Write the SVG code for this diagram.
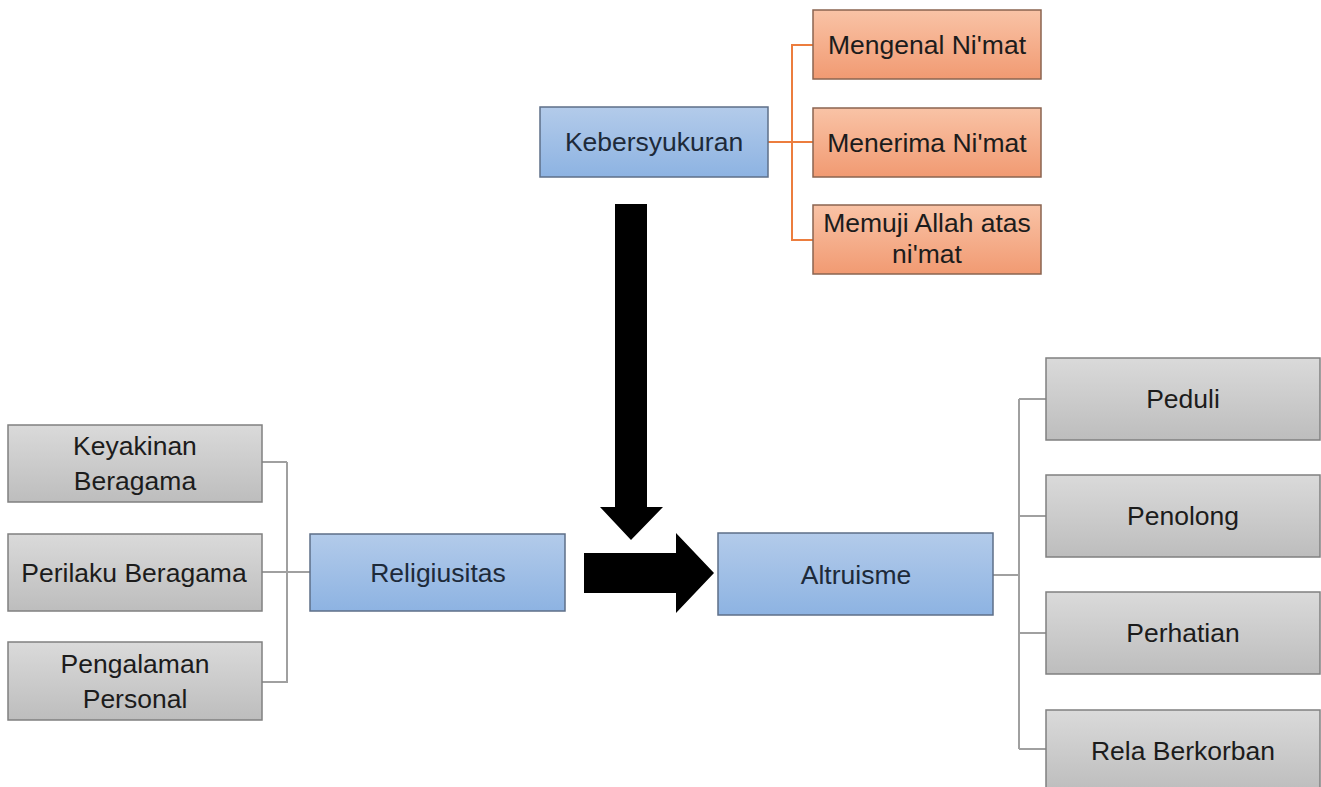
<svg xmlns="http://www.w3.org/2000/svg" width="1321" height="787" viewBox="0 0 1321 787">
<defs>
<linearGradient id="gGray" x1="0" y1="0" x2="0" y2="1"><stop offset="0" stop-color="#dadada"/><stop offset="1" stop-color="#bdbdbd"/></linearGradient>
<linearGradient id="gBlue" x1="0" y1="0" x2="0" y2="1"><stop offset="0" stop-color="#b3cbea"/><stop offset="1" stop-color="#8db3e2"/></linearGradient>
<linearGradient id="gOrange" x1="0" y1="0" x2="0" y2="1"><stop offset="0" stop-color="#f9c3a6"/><stop offset="1" stop-color="#f19a72"/></linearGradient>
</defs>
<style>
.gray{fill:url(#gGray);stroke:#808080;stroke-width:1.5}
.blue{fill:url(#gBlue);stroke:#5e6f88;stroke-width:1.5}
.orange{fill:url(#gOrange);stroke:#8a6450;stroke-width:1.5}
text{font-family:"Liberation Sans",Arial,sans-serif;font-size:26.5px;fill:#1c1c1c;text-anchor:middle}
.bt{fill:#1d2a3a}
.cg{fill:none;stroke:#a0a0a0;stroke-width:2}
.co{fill:none;stroke:#ec7d3e;stroke-width:2}
</style>
<rect width="1321" height="787" fill="#ffffff"/>
<g id="connectors">
<path class="co" d="M768 142H813M792 142V45H813M792 142V240H813"/>
<path class="cg" d="M262 572H310M287 462H262M287 462V682H262"/>
<path class="cg" d="M993 575H1019M1019 399V749M1019 399H1046M1019 516H1046M1019 633H1046M1019 749H1046"/>
<path fill="#000" d="M615 204H647V507H663L631 540L600 507H615Z"/>
<path fill="#000" d="M584 553H676V533L714 573L676 613V593H584Z"/>
</g>
<g id="kebersyukuran"><rect class="blue" x="540" y="107" width="228" height="70"/><text class="bt" x="654" y="151">Kebersyukuran</text></g>
<g id="mengenal"><rect class="orange" x="813" y="10" width="228" height="69"/><text x="927" y="54">Mengenal Ni'mat</text></g>
<g id="menerima"><rect class="orange" x="813" y="108" width="228" height="69"/><text x="927" y="152">Menerima Ni'mat</text></g>
<g id="memuji"><rect class="orange" x="813" y="205" width="228" height="69"/><text x="927" y="232">Memuji Allah atas</text><text x="927" y="263">ni'mat</text></g>
<g id="keyakinan"><rect class="gray" x="8" y="425" width="254" height="77"/><text x="135" y="455">Keyakinan</text><text x="135" y="490">Beragama</text></g>
<g id="perilaku"><rect class="gray" x="8" y="534" width="254" height="77"/><text x="134" y="582">Perilaku Beragama</text></g>
<g id="pengalaman"><rect class="gray" x="8" y="642" width="254" height="78"/><text x="135" y="673">Pengalaman</text><text x="135" y="708">Personal</text></g>
<g id="religiusitas"><rect class="blue" x="310" y="534" width="255" height="77"/><text class="bt" x="438" y="582">Religiusitas</text></g>
<g id="altruisme"><rect class="blue" x="718" y="533" width="275" height="82"/><text class="bt" x="856" y="584">Altruisme</text></g>
<g id="peduli"><rect class="gray" x="1046" y="358" width="274" height="82"/><text x="1183" y="408">Peduli</text></g>
<g id="penolong"><rect class="gray" x="1046" y="475" width="274" height="82"/><text x="1183" y="525">Penolong</text></g>
<g id="perhatian"><rect class="gray" x="1046" y="592" width="274" height="82"/><text x="1183" y="642">Perhatian</text></g>
<g id="rela"><rect class="gray" x="1046" y="710" width="274" height="82"/><text x="1183" y="760">Rela Berkorban</text></g>
</svg>
